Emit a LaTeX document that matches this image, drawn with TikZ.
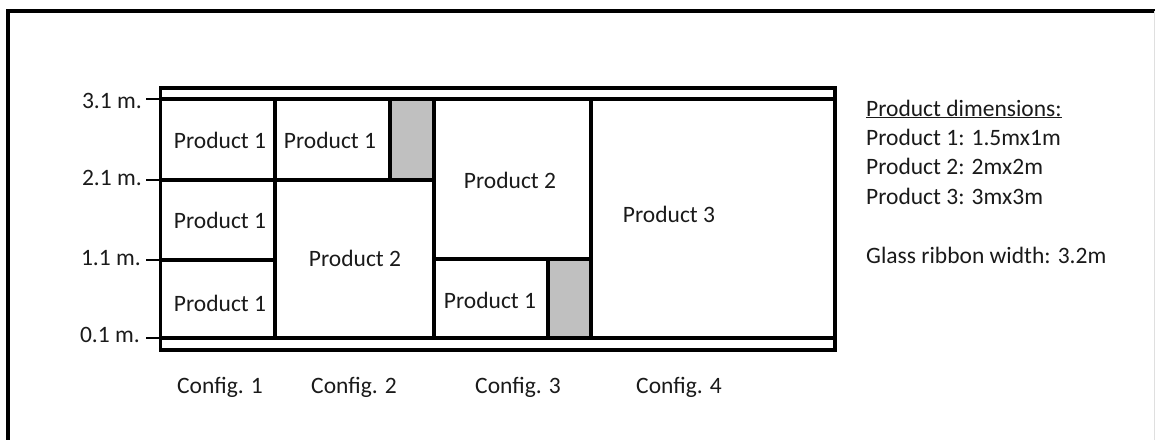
\documentclass[tikz,border=0pt]{standalone}
\usepackage{fontspec}
\setmainfont{Carlito}
\definecolor{waste}{HTML}{C0C0C0}
\definecolor{ink}{HTML}{1A1A1A}
\begin{document}
\begin{tikzpicture}[x=1pt,y=-1pt,
  frame/.style={line width=3.6pt,black},
  cut/.style={line width=3.1pt,black,line cap=rect},
  tick/.style={line width=1.4pt,black},
  lbl/.style={inner sep=0pt,text=ink,font=\fontsize{23.5}{28}\selectfont},
  scrap/.style={fill=waste,draw=none}]
\useasboundingbox (0,0) rectangle (1155,439);
% sheet border
\draw[frame] (8,445) -- (8,11) -- (1160,11);
\draw[gray!25,line width=1pt] (1154.5,11) -- (1154.5,445);
% waste areas
\fill[scrap] (390,99) rectangle (434,180);
\fill[scrap] (548,259) rectangle (591,338);
% glass ribbon
\draw[cut] (160.5,88) rectangle (835,350);
\draw[cut] (160.5,99) -- (835,99);
\draw[cut] (160.5,338) -- (835,338);
% configuration boundaries
\draw[cut] (275,99) -- (275,338);
\draw[cut] (434,99) -- (434,338);
\draw[cut] (591,99) -- (591,338);
% config 1
\draw[cut] (160.5,180) -- (275,180);
\draw[cut] (160.5,260) -- (275,260);
% config 2
\draw[cut] (275,180) -- (434,180);
\draw[cut] (390,99) -- (390,180);
% config 3
\draw[cut] (434,259) -- (591,259);
\draw[cut] (548,259) -- (548,338);
% height scale
\coordinate (t31) at (146,99);  \coordinate (e31) at (161,99);
\coordinate (t21) at (146,180); \coordinate (e21) at (161,180);
\coordinate (t11) at (146,260); \coordinate (e11) at (161,260);
\coordinate (t01) at (146,338); \coordinate (e01) at (161,338);
\draw[tick] (t31) -- (e31);
\draw[tick] (t21) -- (e21);
\draw[tick] (t11) -- (e11);
\draw[tick] (t01) -- (e01);
\node[lbl,anchor=east] (h31) at (142,101) {3.1 m.};
\node[lbl,anchor=east] (h21) at (142,178) {2.1 m.};
\node[lbl,anchor=east] (h11) at (141,258) {1.1 m.};
\node[lbl,anchor=east] (h01) at (140,335) {0.1 m.};
% product labels
\node[lbl] (c1a) at (220,140) {Product 1};
\node[lbl] (c1b) at (220,220) {Product 1};
\node[lbl] (c1c) at (220,303) {Product 1};
\node[lbl] (c2a) at (330,140) {Product 1};
\node[lbl] (c2b) at (355,258) {Product 2};
\node[lbl] (c3a) at (510,180) {Product 2};
\node[lbl] (c3b) at (490,300) {Product 1};
\node[lbl] (c4a) at (669,214) {Product 3};
% configuration captions
\node[lbl] (k1) at (220,387) {Config. 1};
\node[lbl] (k2) at (354,387) {Config. 2};
\node[lbl] (k3) at (518,387) {Config. 3};
\node[lbl] (k4) at (679,387) {Config. 4};
% legend
\node[lbl,anchor=base west] (d0) at (866,116) {\underline{Product dimensions:}};
\node[lbl,anchor=base west] (d1) at (866,145) {Product 1: 1.5mx1m};
\node[lbl,anchor=base west] (d2) at (866,174.5) {Product 2: 2mx2m};
\node[lbl,anchor=base west] (d3) at (866,204) {Product 3: 3mx3m};
\node[lbl,anchor=base west] (d4) at (866,263) {Glass ribbon width: 3.2m};
\end{tikzpicture}
\end{document}
